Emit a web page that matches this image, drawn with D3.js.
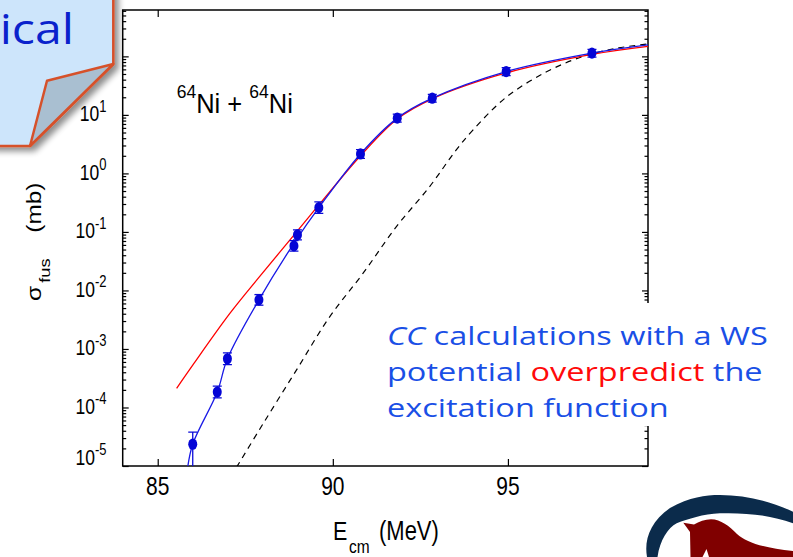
<!DOCTYPE html>
<html><head><meta charset="utf-8">
<script src="https://cdn.jsdelivr.net/npm/d3@7"></script>
<style>body{margin:0;background:#fff}svg{display:block}</style>
</head><body>
<svg id="chart" width="793" height="557"></svg>
<script>
// Fusion excitation function for 64Ni + 64Ni
const energy    = [86.0, 86.7, 86.99, 87.89, 88.89, 88.99, 89.60, 90.79, 91.84, 92.84, 94.95, 97.40];
const sigma     = [2.36e-5, 1.84e-4, 6.8e-4, 6.9e-3, 0.0577, 0.089, 0.26, 2.15, 8.8, 19.3, 55, 113.5];
const sigmaLow  = [5e-6, 1.46e-4, 5.4e-4, 5.6e-3, 0.047, 0.073, 0.207, 1.8, 7.5, 16.5, 47, 97];
const sigmaHigh = [3.8e-5, 2.32e-4, 8.6e-4, 8.5e-3, 0.071, 0.108, 0.325, 2.55, 10.3, 22.5, 64, 132];

// smooth curve through the measured points
const fitE     = [85.85, 86.0, 86.70, 86.99, 87.89, 88.94, 89.60, 90.79, 91.84, 92.84, 94.95, 97.40, 99.0];
const fitSigma = [9e-6, 2.36e-5, 1.84e-4, 6.8e-4, 6.9e-3, 0.071, 0.26, 2.15, 8.8, 19.3, 55, 113.5, 157];

// coupled-channels calculation, Woods-Saxon potential
const ccE     = [85.54, 86.0, 87.06, 87.89, 88.99, 89.91, 90.76, 91.84, 92.84, 94.95, 97.40, 99.0];
const ccSigma = [2.13e-4, 5.3e-4, 4.05e-3, 0.0167, 0.104, 0.483, 1.91, 8.5, 18.8, 52, 108, 148];

// no-coupling limit
const ncE     = [87.25, 88.01, 88.96, 89.91, 90.86, 91.81, 92.76, 93.52, 94.0, 94.95, 96.09, 97.13, 98.08, 99.0];
const ncSigma = [9.5e-6, 5.3e-5, 4.35e-4, 3.54e-3, 0.0195, 0.122, 0.59, 2.5, 5.5, 20, 54, 99, 137, 163];

const xTicks = [85, 90, 95];
const yExponents = [-5, -4, -3, -2, -1, 0, 1, 2];

const X0 = 122.7, X1 = 648, Y0 = 466, Y1 = 10;
const svg = d3.select("#chart");
const x = d3.scaleLinear().domain([84, 99]).range([X0, X1]);
const y = d3.scaleLog().domain([1e-5, 620]).range([Y0, Y1]);

const defs = svg.append("defs");
defs.append("clipPath").attr("id", "plotClip")
  .append("rect").attr("x", X0).attr("y", Y1).attr("width", X1 - X0).attr("height", Y0 - Y1);
const sh = defs.append("filter").attr("id", "shadow").attr("x", "-20%").attr("y", "-20%").attr("width", "150%").attr("height", "150%");
sh.append("feGaussianBlur").attr("in", "SourceAlpha").attr("stdDeviation", 3).attr("result", "b");
sh.append("feOffset").attr("in", "b").attr("dx", 4).attr("dy", 4).attr("result", "o");
sh.append("feComponentTransfer").attr("in", "o").attr("result", "s")
  .append("feFuncA").attr("type", "linear").attr("slope", 0.45);
const shm = sh.append("feMerge");
shm.append("feMergeNode").attr("in", "s");
shm.append("feMergeNode").attr("in", "SourceGraphic");

// ---- ticks (inward, mirrored) ----
const majorY = yExponents.map(e => Math.pow(10, e));
const minorY = [];
yExponents.forEach(e => { for (let m = 2; m <= 9; m++) { const v = m * Math.pow(10, e); if (v <= 620) minorY.push(v); } });

function styleAxis(g) {
  g.select(".domain").remove();
  g.selectAll(".tick line").attr("stroke", "#000").attr("stroke-width", 1.2);
  g.selectAll(".tick text").remove();
}
svg.append("g").attr("transform", `translate(0,${Y0})`)
  .call(d3.axisBottom(x).tickValues(xTicks).tickSize(-7).tickFormat("")).call(styleAxis);
svg.append("g").attr("transform", `translate(0,${Y1})`)
  .call(d3.axisTop(x).tickValues(xTicks).tickSize(-7).tickFormat("")).call(styleAxis);
svg.append("g").attr("transform", `translate(${X0},0)`)
  .call(d3.axisLeft(y).tickValues(majorY).tickSize(-6).tickFormat("")).call(styleAxis);
svg.append("g").attr("transform", `translate(${X0},0)`)
  .call(d3.axisLeft(y).tickValues(minorY).tickSize(-3.5).tickFormat("")).call(styleAxis);
svg.append("g").attr("transform", `translate(${X1},0)`)
  .call(d3.axisRight(y).tickValues(majorY).tickSize(-6).tickFormat("")).call(styleAxis);
svg.append("g").attr("transform", `translate(${X1},0)`)
  .call(d3.axisRight(y).tickValues(minorY).tickSize(-3.5).tickFormat("")).call(styleAxis);

svg.append("rect").attr("x", X0).attr("y", Y1).attr("width", X1 - X0).attr("height", Y0 - Y1)
  .attr("fill", "none").attr("stroke", "#000").attr("stroke-width", 1.5);

// ---- curves ----
const plot = svg.append("g").attr("clip-path", "url(#plotClip)");
const line = d3.line().x(d => x(d[0])).y(d => y(d[1])).curve(d3.curveCatmullRom.alpha(0.5));
plot.append("path").datum(d3.zip(ncE, ncSigma)).attr("d", line)
  .attr("fill", "none").attr("stroke", "#000").attr("stroke-width", 1.2).attr("stroke-dasharray", "6,5");
plot.append("path").datum(d3.zip(ccE, ccSigma)).attr("d", line)
  .attr("fill", "none").attr("stroke", "#ff0000").attr("stroke-width", 1.3);
plot.append("path").datum(d3.zip(fitE, fitSigma)).attr("d", line)
  .attr("fill", "none").attr("stroke", "#1a1ae6").attr("stroke-width", 1.3);

// ---- data with error bars ----
const pts = energy.map((e, i) => ({ e, s: sigma[i], lo: sigmaLow[i], hi: sigmaHigh[i] }));
const pg = plot.selectAll("g.pt").data(pts).join("g").attr("class", "pt");
pg.append("line").attr("x1", d => x(d.e)).attr("x2", d => x(d.e))
  .attr("y1", d => y(d.lo)).attr("y2", d => y(d.hi)).attr("stroke", "#0a0ad8").attr("stroke-width", 1.3);
pg.append("line").attr("x1", d => x(d.e) - 4.5).attr("x2", d => x(d.e) + 4.5)
  .attr("y1", d => y(d.hi)).attr("y2", d => y(d.hi)).attr("stroke", "#0a0ad8").attr("stroke-width", 1.3);
pg.append("line").attr("x1", d => x(d.e) - 4.5).attr("x2", d => x(d.e) + 4.5)
  .attr("y1", d => y(d.lo)).attr("y2", d => y(d.lo)).attr("stroke", "#0a0ad8").attr("stroke-width", 1.3);
pg.append("ellipse").attr("cx", d => x(d.e)).attr("cy", d => y(d.s))
  .attr("rx", 4.5).attr("ry", 5.6).attr("fill", "#0505d6");

// ---- axis labels ----
const FONT = "'Liberation Sans', Arial, Helvetica, sans-serif";
const SY = 1.22;
xTicks.forEach(t => {
  svg.append("text").attr("transform", `translate(${x(t)},495) scale(1,${SY})`)
    .attr("text-anchor", "middle").attr("font-family", FONT).attr("font-size", 21).text(t);
});
yExponents.forEach(e => {
  const yy = y(Math.pow(10, e)) + (e === -5 ? -1 : 6.5);
  const t = svg.append("text").attr("transform", `translate(106.5,${yy}) scale(1,${SY})`)
    .attr("text-anchor", "end").attr("font-family", FONT).attr("font-size", 17.5);
  t.append("tspan").text("10");
  t.append("tspan").attr("font-size", 13).attr("dy", -8).text(e);
});

// x title
svg.append("text").attr("transform", `translate(333,540) scale(1,${SY})`)
  .attr("font-family", FONT).attr("font-size", 21.5).text("E");
svg.append("text").attr("transform", `translate(349,553) scale(1,${SY})`)
  .attr("font-family", FONT).attr("font-size", 15.5).text("cm");
svg.append("text").attr("transform", `translate(379,540) scale(1,${SY})`)
  .attr("font-family", FONT).attr("font-size", 22).text("(MeV)");

// y title
const yt = svg.append("g").attr("transform", `translate(41,301) rotate(-90) scale(${SY},1)`)
  .attr("font-family", FONT);
yt.append("text").attr("x", 0).attr("y", 0).attr("font-size", 20).text("σ");
yt.append("text").attr("x", 15).attr("y", 9).attr("font-size", 15).text("fus");
yt.append("text").attr("x", 56).attr("y", 0).attr("font-size", 20).text("(mb)");

// reaction label
const rl = svg.append("text").attr("transform", `translate(176.7,113.3) scale(1,1.1)`)
  .attr("font-family", FONT).attr("font-size", 25.5);
rl.append("tspan").attr("font-size", 17.5).attr("dy", -14).text("64");
rl.append("tspan").attr("dy", 14).text("Ni + ");
rl.append("tspan").attr("font-size", 17.5).attr("dy", -14).text("64");
rl.append("tspan").attr("dy", 14).text("Ni");

// ---- annotation ----
svg.append("rect").attr("x", 376).attr("y", 303).attr("width", 417).attr("height", 123).attr("fill", "#fff");
const NOTE = "'Open Sans', 'Noto Sans', sans-serif";
const lines = [
  [{ t: "CC", c: "#1a4fe6", i: true }, { t: " calculations with a WS", c: "#1a4fe6" }],
  [{ t: "potential ", c: "#1a4fe6" }, { t: "overpredict", c: "#ff0a0a" }, { t: " the", c: "#1a4fe6" }],
  [{ t: "excitation function", c: "#1a4fe6" }]
];
const NS = 26;
const noteG = svg.append("g").attr("font-family", NOTE);
const noteTexts = lines.map((ln, k) => {
  const t = noteG.append("text").attr("font-size", NS);
  ln.forEach(p => t.append("tspan").attr("fill", p.c).attr("font-style", p.i ? "italic" : null).text(p.t));
  return t;
});
const sx = 381 / noteTexts[0].node().getComputedTextLength();
noteTexts.forEach((t, k) => t.attr("transform", `translate(387,${345 + k * 36}) scale(${sx},1)`));

// ---- folded callout ----
const co = svg.append("g").attr("filter", "url(#shadow)");
co.append("path").attr("d", "M-10,-10 L113.3,-10 L113.3,64 L30,146 L-10,146 Z")
  .attr("fill", "#cde5fb").attr("stroke", "#d6512b").attr("stroke-width", 2.5).attr("stroke-linejoin", "round");
co.append("path").attr("d", "M113.3,64 L47,80.7 L30,146 Z")
  .attr("fill", "#a9bfd1").attr("stroke", "#d6512b").attr("stroke-width", 2.5).attr("stroke-linejoin", "round");
svg.append("text").attr("transform", "translate(74,44) scale(1.15,1)").attr("text-anchor", "end")
  .attr("font-family", NOTE).attr("font-size", 42).attr("fill", "#0a22cc").text("ical");

// ---- emblem, lower right ----
svg.append("path")
  .attr("d", "M647,557 C644,540 650,522 670,508 C690,497 705,495 720,495 C745,495 770,501 793,511.7 L793,523.3 C770,515 745,512.5 720,513.3 C703,514 688,519 676.7,523.3 C668,528 660,540 657.5,557 Z")
  .attr("fill", "#0b2b4b");
svg.append("path")
  .attr("d", "M683.3,522.7 L694,524.5 C699,521.5 705,519.5 711,519.3 C721,519.5 729,526 737,534 C747,543 765,548 793,551 L793,557 L709,557 L706.5,549 L702.5,557 L690.5,557 L690,532 Z")
  .attr("fill", "#800000");
</script>
</body></html>
